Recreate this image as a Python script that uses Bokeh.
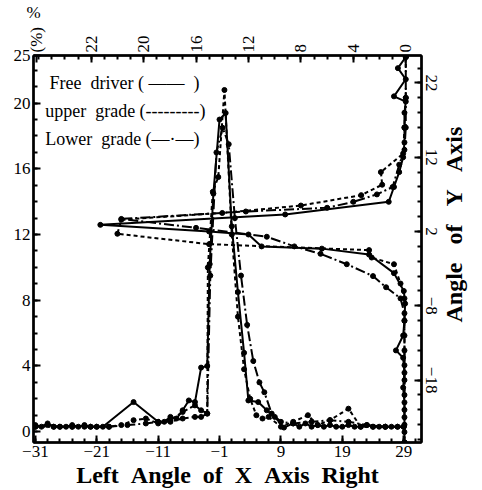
import math
from bokeh.plotting import figure
from bokeh.models import Range1d, LinearAxis, FixedTicker, Label
from bokeh.embed import file_html
from bokeh.resources import INLINE

# ---- X-angle distribution (bottom axis: angle, left axis: %) ----
fd_x = [-31, -30, -29, -28, -27, -26, -25, -24, -23, -22, -21, -20, -15, -11, -10, -9, -8, -7, -6, -5,
        -4, -3, -2.6, -2, -1, 0, 1, 2, 3, 3.7, 5.3, 6.7, 8, 9.5, 11, 12, 13, 14, 15, 16, 17, 18, 19,
        20, 21, 22, 23, 24, 25, 26, 27, 28, 29]
fd_y = [0.4, 0.3, 0.5, 0.3, 0.3, 0.3, 0.4, 0.3, 0.4, 0.3, 0.3, 0.3, 1.8, 0.6, 0.6, 0.9, 0.8, 1.3, 1.9, 1.8,
        3.9, 4.0, 10.2, 14.5, 19.0, 19.4, 12.5, 8.5, 4.8, 1.9, 1.8, 1.3, 0.9, 0.25, 0.5, 0.3, 0.5, 0.3, 0.4,
        0.3, 0.4, 0.3, 0.3, 0.4, 0.3, 0.3, 0.4, 0.3, 0.3, 0.3, 0.3, 0.3, 0.3]

ug_x = [-31, -29, -27, -25, -23, -21, -19, -17, -15, -13, -11, -9, -7, -5, -4, -3, -2.9, -2.1, -1.2, -0.2,
        1, 2, 3, 4, 5, 6, 7, 9, 11, 13.4, 15, 17, 20, 22, 24, 26, 28, 29]
ug_y = [0.3, 0.4, 0.3, 0.3, 0.3, 0.3, 0.3, 0.4, 0.7, 0.8, 0.5, 0.7, 1.2, 1.6, 1.3, 1.1, 10.0, 14.6, 15.5, 20.8,
        12.0, 7.0, 3.8, 2.0, 1.0, 0.8, 0.9, 0.3, 0.6, 1.0, 0.4, 0.7, 1.4, 0.3, 0.3, 0.3, 0.3, 0.3]

lg_x = [-31, -28, -25, -22, -19, -16, -13, -11, -9, -7, -5, -4, -3, -2.5, -1.5, -0.5, 0.5, 1.5, 2.5, 3.5,
        4.5, 5.5, 6.3, 7.5, 9, 11, 14, 17, 20, 23, 26, 29]
lg_y = [0.3, 0.3, 0.3, 0.3, 0.3, 0.4, 0.5, 0.6, 0.6, 0.8, 0.9, 0.9, 1.1, 9.5, 17.0, 18.5, 17.5, 13.0, 9.5, 6.5,
        4.3, 3.0, 2.4, 1.1, 0.6, 0.5, 0.6, 0.7, 0.6, 0.4, 0.3, 0.3]

# ---- Y-angle distribution (top axis: %, right axis: angle) ----
fd_ang = [25.5, 24.0, 22.5, 20.2, 19.5, 18, 16, 14, 12, 10, 8, 6, 4.3, 2.9, 2.0, 1.6, 0.0, -0.3, -1.1,
          -3.6, -6.0, -7.7, -10, -12, -14, -15, -17, -19, -21, -23, -25, -26.4]
fd_pct = [0.0, 0.6, 0.0, 0.9, 0.0, 0.1, 0.1, 0.1, 0.2, 0.5, 0.9, 1.3, 9.2, 23.3, 15.0, 12.0, 11.0, 6.4, 2.8,
          0.9, 0.15, 0.05, 0.1, 0.2, 0.75, 0.2, 0.1, 0.2, 0.1, 0.1, 0.1, 0.1]

ug_ang = [25.5, 20, 16, 12.5, 10, 8.3, 6.9, 5.5, 4.5, 3.6, 1.7, 0.3, -0.5, -1.5, -2.4, -5, -7, -10, -14,
          -18, -22, -26.4]
ug_pct = [0.0, 0.0, 0.1, 0.2, 1.9, 1.8, 3.4, 8.0, 14.0, 21.7, 22.0, 15.0, 2.8, 2.6, 0.9, 0.4, 0.1, 0.1, 0.1,
          0.1, 0.1, 0.1]

lg_ang = [25.5, 20, 16, 13, 11, 8, 7, 6, 5.2, 4.7, 3.7, 2.5, 1.3, 0, -1, -2.4, -4, -5.5, -7, -9, -12, -16,
          -20, -24, -26.4]
lg_pct = [0.0, 0.0, 0.0, 0.1, 0.5, 1.0, 2.2, 4.0, 6.0, 12.2, 21.7, 16.0, 10.6, 8.5, 6.5, 4.5, 2.5, 1.5, 0.4,
          0.1, 0.1, 0.1, 0.1, 0.1, 0.1]

# ---- tick positions and labels ----
x_ticks = [-31, -21, -11, -1, 9, 19, 29]
y_ticks = [0, 4, 8, 12, 16, 20, 22.9]
y_labels = {22.9: "25"}
pct_ticks = [0, 4, 8, 12, 16, 20, 24, 28.2]
pct_labels = {24: "22", 28.2: "(%)"}
ang_ticks = [-18, -8, 2, 12, 22]

SERIF = "Liberation Serif"
SP = " \u00a0"
WIDE = " \u00a0\u00a0"

p = figure(width=482, height=490, output_backend="svg", toolbar_location=None,
           x_range=Range1d(-31.3, 31.9), y_range=Range1d(-0.66, 22.9),
           min_border_left=33, min_border_right=54, min_border_top=52, min_border_bottom=47)
p.extra_x_ranges = {"pct": Range1d(28.4, -1.2)}
p.extra_y_ranges = {"ang": Range1d(-26.4, 25.7)}
p.grid.visible = False
p.outline_line_color = "black"
p.outline_line_width = 2
p.background_fill_color = "white"
p.border_fill_color = "white"

bottom = p.below[0]
left = p.left[0]
top = LinearAxis(x_range_name="pct")
right = LinearAxis(y_range_name="ang")
p.add_layout(top, "above")
p.add_layout(right, "right")

bottom.ticker = FixedTicker(ticks=x_ticks, minor_ticks=list(range(-31, 32, 2)))
bottom.axis_label = SP.join(["Left", "Angle", "of", "X", "Axis", "Right"])
left.ticker = FixedTicker(ticks=y_ticks, minor_ticks=list(range(0, 23)))
left.major_label_overrides = y_labels
top.ticker = FixedTicker(ticks=pct_ticks, minor_ticks=list(range(0, 29)))
top.major_label_overrides = pct_labels
top.major_label_orientation = math.pi / 2
top.axis_label = "%"
right.ticker = FixedTicker(ticks=ang_ticks, minor_ticks=list(range(-26, 26, 2)))
right.major_label_orientation = "parallel"
# title reads upward from the lower end of the axis; leading spaces lift it to mid-height
right.axis_label = "\u00a0" * 20 + WIDE.join(["Angle", "of", "Y", "Axis"])

for ax in [bottom, left, top, right]:
    ax.axis_line_width = 2.5
    ax.major_tick_in = 7
    ax.major_tick_out = 0
    ax.minor_tick_in = 4
    ax.minor_tick_out = 0
    ax.major_tick_line_width = 2
    ax.minor_tick_line_width = 2
    ax.major_label_text_font = SERIF
    ax.major_label_text_font_size = "17px"
    ax.major_label_text_color = "black"
    ax.major_label_standoff = 3
    ax.axis_label_text_font = SERIF
    ax.axis_label_text_font_size = "24px"
    ax.axis_label_text_font_style = "bold"
    ax.axis_label_text_color = "black"
    ax.axis_label_standoff = 2

right.major_label_standoff = 4
right.axis_label_standoff = 14
top.axis_label_text_font_size = "17px"
top.axis_label_text_font_style = "normal"
top.axis_label_align = "end"
right.axis_label_align = "start"
right.axis_label_orientation = math.pi / 2

# X-angle curves
p.line(fd_x, fd_y, color="black", line_width=2)
p.scatter(fd_x, fd_y, color="black", size=5)
p.line(ug_x, ug_y, color="black", line_width=2, line_dash="4 3")
p.scatter(ug_x, ug_y, color="black", size=5)
p.line(lg_x, lg_y, color="black", line_width=2, line_dash="10 3 2 3")
p.scatter(lg_x, lg_y, color="black", size=5)

# Y-angle curves
p.line(fd_pct, fd_ang, color="black", line_width=2, x_range_name="pct", y_range_name="ang")
p.scatter(fd_pct, fd_ang, color="black", size=5, x_range_name="pct", y_range_name="ang")
p.line(ug_pct, ug_ang, color="black", line_width=2, line_dash="4 3", x_range_name="pct", y_range_name="ang")
p.scatter(ug_pct, ug_ang, color="black", size=5, x_range_name="pct", y_range_name="ang")
p.line(lg_pct, lg_ang, color="black", line_width=2, line_dash="10 3 2 3", x_range_name="pct", y_range_name="ang")
p.scatter(lg_pct, lg_ang, color="black", size=5, x_range_name="pct", y_range_name="ang")

# legend written as text with line samples
legend_rows = [("Free" + SP + "driver ( —— \u00a0)", -28.7, 21.2),
               ("upper" + SP + "grade (---------)", -29.4, 19.5),
               ("Lower" + SP + "grade (—·—)", -29.4, 17.8)]
for txt, lx, ly in legend_rows:
    p.add_layout(Label(x=lx, y=ly, text=txt, text_font=SERIF, text_font_size="18px",
                       text_color="black", text_baseline="middle"))

open("out.html", "w").write(file_html(p, INLINE))
